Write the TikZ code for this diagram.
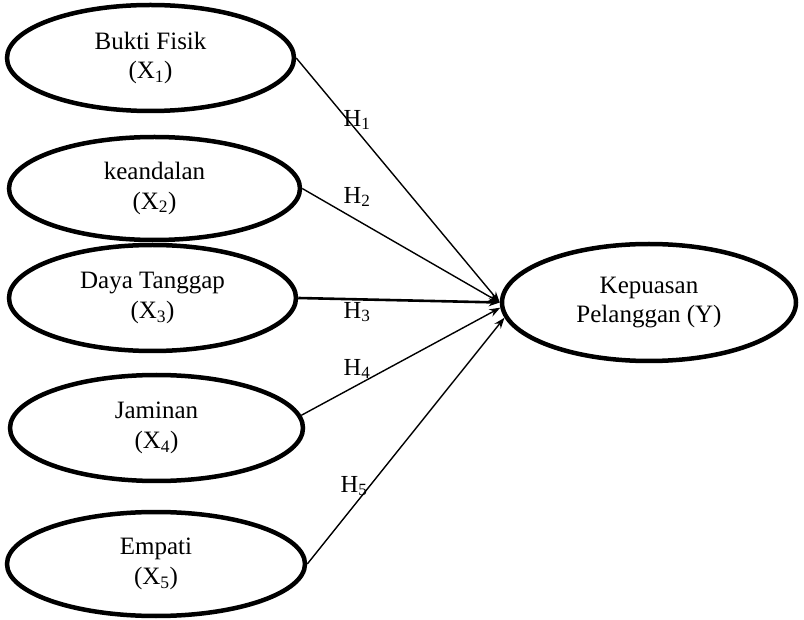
\documentclass[tikz,border=0pt]{standalone}
\usepackage{fontspec}
\setmainfont{Liberation Serif}
\usetikzlibrary{shapes.geometric,arrows.meta}
\begin{document}
\begin{tikzpicture}[x=1pt,y=-1pt,
  var/.style={ellipse,draw,line width=4.5pt,inner sep=0pt,align=center,
    font=\fontsize{25}{29.5}\selectfont},
  hyp/.style={line width=1.4pt,-{Stealth[length=11pt,width=8pt]}},
  hlab/.style={inner sep=0pt,font=\fontsize{24.5}{28}\selectfont}]
\useasboundingbox (0,0) rectangle (804,620);
\node[var,minimum width=287pt,minimum height=106pt] (e1) at (150.5,58) {Bukti Fisik\\(X\textsubscript{1})};
\node[var,minimum width=291pt,minimum height=103pt] (e2) at (154.5,188.5) {keandalan\\(X\textsubscript{2})};
\node[var,minimum width=287pt,minimum height=106pt] (e3) at (152.5,298) {Daya Tanggap\\(X\textsubscript{3})};
\node[var,minimum width=293pt,minimum height=106pt] (e4) at (156.5,428) {Jaminan\\(X\textsubscript{4})};
\node[var,minimum width=298pt,minimum height=104pt] (e5) at (156,564) {Empati\\(X\textsubscript{5})};
\node[var,minimum width=294pt,minimum height=117pt] (y) at (649,302.5) {Kepuasan\\Pelanggan (Y)};
\draw[hyp] (e1.east) -- (y.west);
\draw[hyp] (e2.east) -- (y.west);
\draw[hyp,line width=2.6pt] (e3.east) -- (y.west);
\draw[hyp] (e4.5) -- (y.182);
\draw[hyp] (e5.east) -- (y.186);
\node[hlab] (h1) at (357,120) {H\textsubscript{1}};
\node[hlab] (h2) at (357,197) {H\textsubscript{2}};
\node[hlab] (h3) at (357,312) {H\textsubscript{3}};
\node[hlab] (h4) at (357,369) {H\textsubscript{4}};
\node[hlab] (h5) at (354,486) {H\textsubscript{5}};
\end{tikzpicture}
\end{document}
